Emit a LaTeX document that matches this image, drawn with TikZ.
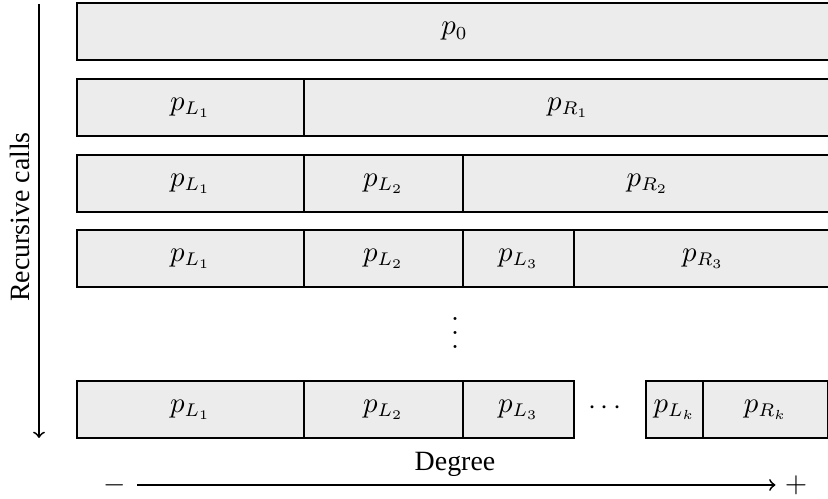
\documentclass[tikz,border=0pt]{standalone}
\usepackage{fontspec}
\setmainfont{Liberation Serif}
\usetikzlibrary{fit}
\tikzset{
  cell/.style={draw=black, fill=gray!15, line width=1pt, inner sep=0pt, rectangle},
  axis/.style={line width=0.7pt, ->, >=to},
}
\begin{document}
\begin{tikzpicture}[x=0.38pt, y=-0.38pt, font=\fontsize{10.6pt}{12.5pt}\selectfont]
\useasboundingbox (0,0) rectangle (828,499);
\clip (0,0) rectangle (828,499);

% row 0
\node[cell, fit={(77,3) (832,60)}, label=center:{$p_0$}] (r0) {};
% row 1
\node[cell, fit={(77,79) (304,136)}, label=center:{$p_{L_1}$}] (r1a) {};
\node[cell, fit={(304,79) (832,136)}, label=center:{$p_{R_1}$}] (r1b) {};
% row 2
\node[cell, fit={(77,155) (304,212)}, label=center:{$p_{L_1}$}] (r2a) {};
\node[cell, fit={(304,155) (463,212)}, label=center:{$p_{L_2}$}] (r2b) {};
\node[cell, fit={(463,155) (832,212)}, label=center:{$p_{R_2}$}] (r2c) {};
% row 3
\node[cell, fit={(77,230) (304,287)}, label=center:{$p_{L_1}$}] (r3a) {};
\node[cell, fit={(304,230) (463,287)}, label=center:{$p_{L_2}$}] (r3b) {};
\node[cell, fit={(463,230) (574,287)}, label=center:{$p_{L_3}$}] (r3c) {};
\node[cell, fit={(574,230) (832,287)}, label=center:{$p_{R_3}$}] (r3d) {};
% vertical ellipsis, with wider spacing than \vdots
\node[inner sep=0pt] (vd) at (455,333)
  {\vbox{\baselineskip=5.3pt\lineskiplimit=-10pt\hbox{$.$}\hbox{$.$}\hbox{$.$}}};
% last row
\node[cell, fit={(77,381) (304,438)}, label=center:{$p_{L_1}$}] (rka) {};
\node[cell, fit={(304,381) (463,438)}, label=center:{$p_{L_2}$}] (rkb) {};
\node[cell, fit={(463,381) (574,438)}, label=center:{$p_{L_3}$}] (rkc) {};
\node (hd) at (605,408) {$\cdots$};
\node[cell, fit={(646,381) (703,438)}, label=center:{$p_{L_k}$}] (rkd) {};
\node[cell, fit={(703,381) (828,438)}, label=center:{$p_{R_k}$}] (rke) {};

% vertical axis
\coordinate (vtop) at (39,4);
\coordinate (vbot) at (39,438);
\draw[axis] (vtop) -- (vbot);
\node[rotate=90] (vlab) at (20,217) {Recursive calls};

% horizontal axis
\node (minus) at (115,485) {$-$};
\node (plus) at (796,485) {$+$};
\coordinate (h0) at (137,485);
\draw[axis] (h0) -- (plus.west);
\node (hlab) at (455,464) {Degree};
\end{tikzpicture}
\end{document}
